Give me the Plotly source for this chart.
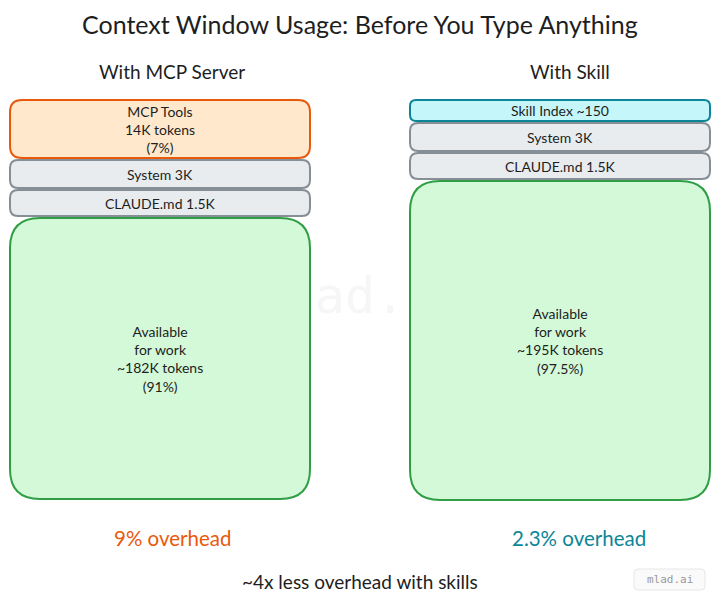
import plotly.graph_objects as go

# ---------------- data ----------------
title_text = "Context Window Usage: Before You Type Anything"
columns = ["With MCP Server", "With Skill"]
mcp_blocks = ["MCP Tools<br>14K tokens<br>(7%)", "System 3K", "CLAUDE.md 1.5K",
              "Available<br>for work<br>~182K tokens<br>(91%)"]
skill_blocks = ["Skill Index ~150", "System 3K", "CLAUDE.md 1.5K",
                "Available<br>for work<br>~195K tokens<br>(97.5%)"]
block_kinds_mcp = ["mcp", "gray", "gray", "avail"]
block_kinds_skill = ["skill", "gray", "gray", "avail"]
overheads = ["9% overhead", "2.3% overhead"]
footer = "~4x less overhead with skills"
brand = "mlad.ai"

# ---------------- layout / style ----------------
W, H = 720, 604
FONT = "Lato"
TXT = "#1e1e1e"
styles = {
    "mcp": dict(fill="#ffe8cc", line="#e8590c", r=12),
    "gray": dict(fill="#e9ecef", line="#868e96", r=8),
    "skill": dict(fill="#c5f6fa", line="#0c8599", r=6),
    "avail": dict(fill="#d3f9d8", line="#2f9e44", r=30),
}
col_x = [(10, 310), (410, 710)]
heights_mcp = [58, 28, 26, 281]
heights_skill = [21, 28, 26, 319]
top_y, gap = 100, 2
overhead_colors = ["#e8590c", "#0c8599"]
col_title_x = [172, 570]
overhead_x = [172, 579]


def rrect(x0, y0, x1, y1, r):
    return (f"M {x0+r},{y0} L {x1-r},{y0} Q {x1},{y0} {x1},{y0+r} "
            f"L {x1},{y1-r} Q {x1},{y1} {x1-r},{y1} L {x0+r},{y1} "
            f"Q {x0},{y1} {x0},{y1-r} L {x0},{y0+r} Q {x0},{y0} {x0+r},{y0} Z")


fig = go.Figure()
# faint watermark behind boxes
fig.add_trace(go.Scatter(x=[360], y=[300], mode="text", text=[brand],
                         textfont=dict(family="DejaVu Sans Mono", size=50, color="#f6f6f6"),
                         hoverinfo="skip", showlegend=False))

shapes, annots = [], []
for ci, (blocks, kinds, hts) in enumerate([(mcp_blocks, block_kinds_mcp, heights_mcp),
                                            (skill_blocks, block_kinds_skill, heights_skill)]):
    x0, x1 = col_x[ci]
    y = top_y
    for label, kind, h in zip(blocks, kinds, hts):
        st = styles[kind]
        shapes.append(dict(type="path", path=rrect(x0, y, x1, y + h, st["r"]),
                           fillcolor=st["fill"], line=dict(color=st["line"], width=2),
                           xref="x", yref="y", layer="above"))
        annots.append(dict(x=(x0 + x1) / 2, y=y + h / 2, text=label, showarrow=False,
                           xref="x", yref="y", font=dict(family=FONT, size=14, color=TXT),
                           align="center"))
        y += h + gap
    annots.append(dict(x=col_title_x[ci], y=71, text=columns[ci], showarrow=False,
                       xref="x", yref="y", font=dict(family=FONT, size=19, color=TXT)))
    annots.append(dict(x=overhead_x[ci], y=538, text=overheads[ci], showarrow=False,
                       xref="x", yref="y", font=dict(family=FONT, size=20.5, color=overhead_colors[ci])))

annots.append(dict(x=360, y=24, text=title_text, showarrow=False, xref="x", yref="y",
                   font=dict(family=FONT, size=25, color=TXT)))
annots.append(dict(x=360, y=581, text=footer, showarrow=False, xref="x", yref="y",
                   font=dict(family=FONT, size=19, color=TXT)))
# brand badge
shapes.append(dict(type="path", path=rrect(634, 569, 705, 590, 4), fillcolor="#fafafa",
                   line=dict(color="#e6e6e6", width=1), xref="x", yref="y", layer="above"))
annots.append(dict(x=669.5, y=579.5, text=brand, showarrow=False, xref="x", yref="y",
                   font=dict(family="DejaVu Sans Mono", size=11, color="#999999")))

fig.update_layout(
    width=W, height=H, margin=dict(l=0, r=0, t=0, b=0),
    paper_bgcolor="white", plot_bgcolor="white",
    xaxis=dict(range=[0, W], visible=False, fixedrange=True),
    yaxis=dict(range=[H, 0], visible=False, fixedrange=True),
    shapes=shapes, annotations=annots, showlegend=False,
)
fig.write_html("out.html", config={"displayModeBar": False},
               post_script="document.body.style.margin='0';document.body.style.overflow='hidden';")
